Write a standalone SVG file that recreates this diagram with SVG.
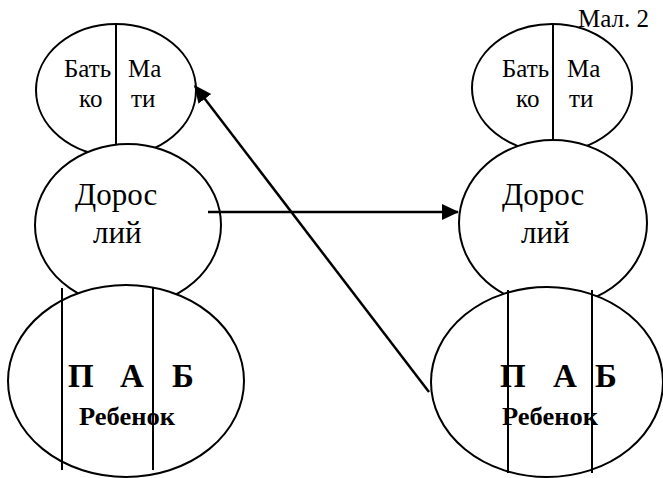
<svg xmlns="http://www.w3.org/2000/svg" width="663" height="478" viewBox="0 0 663 478">
<style>
.sh{fill:#fff;stroke:#000;stroke-width:2}
.dv{stroke:#000;stroke-width:2;fill:none}
.t{font-family:"Liberation Serif","Times New Roman",serif;fill:#000}
.s{font-size:25px}
.m{font-size:31px}
.b{font-size:33px;font-weight:bold}
.r{font-size:25px;font-weight:bold}
.ln{stroke:#000;stroke-width:2.5;fill:none}
</style>
<defs>
<marker id="ah" markerWidth="7" markerHeight="7" refX="6.5" refY="3.5" orient="auto" markerUnits="strokeWidth">
<path d="M0,0.3 L7,3.5 L0,6.7 Z" fill="#000"/>
</marker>
</defs>
<text class="t s" x="578" y="27">Мал. 2</text>
<g id="left-parents">
<ellipse class="sh" cx="116" cy="90" rx="80" ry="66"/>
<line class="dv" x1="116" y1="24" x2="116" y2="150"/>
<text class="t s" x="64" y="77">Бать</text>
<text class="t s" x="128" y="77">Ма</text>
<text class="t s" x="79" y="107">ко</text>
<text class="t s" x="131" y="107">ти</text>
</g>
<g id="left-adult">
<ellipse class="sh" cx="128" cy="225" rx="93" ry="81"/>
<text class="t m" x="75" y="205">Дорос</text>
<text class="t m" x="93" y="243">лий</text>
</g>
<g id="left-child">
<ellipse class="sh" cx="126" cy="381" rx="118" ry="96"/>
<text class="t b" x="68" y="387">П</text>
<text class="t b" x="120" y="387">А</text>
<text class="t b" x="172" y="387">Б</text>
<text class="t r" x="79" y="425" textLength="96" lengthAdjust="spacingAndGlyphs">Ребенок</text>
<line class="dv" x1="62" y1="288" x2="62" y2="470"/>
<line class="dv" x1="153" y1="288" x2="153" y2="470"/>
</g>
<g id="right-parents">
<ellipse class="sh" cx="552" cy="88" rx="80" ry="64"/>
<line class="dv" x1="553" y1="24" x2="553" y2="146"/>
<text class="t s" x="502" y="77">Бать</text>
<text class="t s" x="567" y="77">Ма</text>
<text class="t s" x="516" y="107">ко</text>
<text class="t s" x="569" y="107">ти</text>
</g>
<g id="right-adult">
<ellipse class="sh" cx="553" cy="223" rx="94" ry="83"/>
<text class="t m" x="502" y="205">Дорос</text>
<text class="t m" x="521" y="243">лий</text>
</g>
<g id="right-child">
<ellipse class="sh" cx="547" cy="382" rx="116" ry="95"/>
<text class="t b" x="500" y="387">П</text>
<text class="t b" x="553" y="387">А</text>
<text class="t b" x="595" y="387">Б</text>
<text class="t r" x="502" y="425" textLength="96" lengthAdjust="spacingAndGlyphs">Ребенок</text>
<line class="dv" x1="508" y1="290" x2="508" y2="473"/>
<line class="dv" x1="592" y1="290" x2="592" y2="473"/>
</g>
<g id="connectors">
<line class="ln" x1="208" y1="212" x2="458" y2="212" marker-end="url(#ah)"/>
<line class="ln" x1="429" y1="392" x2="195" y2="86" marker-end="url(#ah)"/>
</g>
</svg>
